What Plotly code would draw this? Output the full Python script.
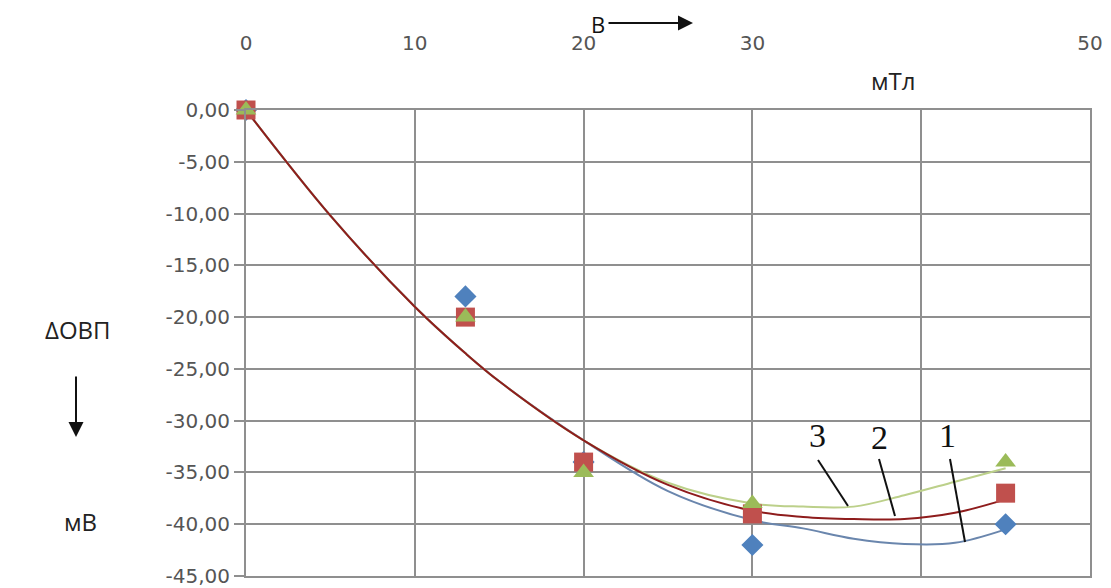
import plotly.graph_objects as go

# ---- data ----
x_points = [0, 13, 20, 30, 45]
series1_points = [0, -18, -34, -42, -40]      # blue diamonds (curve 1)
series2_points = [0, -20, -34, -39, -37]      # red squares (curve 2)
series3_points = [0, -20, -35, -38, -34]      # green triangles (curve 3)

x_curve = [0, 5, 10, 13, 15, 20, 25, 30, 33, 36, 39, 42, 45]
curve1 = [0, -10.2, -19.0, -23.5, -26.2, -31.9, -36.8, -39.6, -40.4, -41.4, -41.9, -41.8, -40.5]
curve2 = [0, -10.2, -19.0, -23.5, -26.2, -31.9, -36.2, -38.7, -39.3, -39.5, -39.5, -38.9, -37.6]
curve3 = [0, -10.2, -19.0, -23.5, -26.2, -31.9, -36.0, -38.0, -38.3, -38.3, -37.2, -35.9, -34.6]

x_tickvals = [0, 10, 20, 30, 40, 50]
x_ticktext = ["0", "10", "20", "30", "", "50"]
y_tickvals = [0, -5, -10, -15, -20, -25, -30, -35, -40, -45]
y_ticktext = ["0,00", "-5,00", "-10,00", "-15,00", "-20,00", "-25,00",
              "-30,00", "-35,00", "-40,00", "-45,00"]

BLUE = "#4F81BD"
RED = "#C0504D"
GREEN = "#9BBB59"

fig = go.Figure()

# trend curves
fig.add_trace(go.Scatter(x=x_curve, y=curve1, mode="lines",
                         line=dict(color="#6a86ad", width=2, shape="spline", smoothing=1.0),
                         hoverinfo="skip", showlegend=False))
fig.add_trace(go.Scatter(x=x_curve, y=curve3, mode="lines",
                         line=dict(color="#bcd08a", width=2, shape="spline", smoothing=1.0),
                         hoverinfo="skip", showlegend=False))
fig.add_trace(go.Scatter(x=x_curve, y=curve2, mode="lines",
                         line=dict(color="#8e1c1c", width=2, shape="spline", smoothing=1.0),
                         hoverinfo="skip", showlegend=False))

# markers
fig.add_trace(go.Scatter(x=x_points, y=series1_points, mode="markers",
                         marker=dict(symbol="diamond", size=17, color=BLUE),
                         cliponaxis=False, showlegend=False))
fig.add_trace(go.Scatter(x=x_points, y=series2_points, mode="markers",
                         marker=dict(symbol="square", size=19, color=RED),
                         cliponaxis=False, showlegend=False))
fig.add_trace(go.Scatter(x=x_points, y=series3_points, mode="markers",
                         marker=dict(symbol="triangle-up", size=18, color=GREEN),
                         cliponaxis=False, showlegend=False))

GRID = "#8f8f8f"
TICKFONT = dict(family="DejaVu Sans", size=20, color="#555555")

fig.update_xaxes(range=[0, 50], side="top", tickvals=x_tickvals, ticktext=x_ticktext,
                 showgrid=True, gridcolor=GRID, gridwidth=2, zeroline=False,
                 showline=True, linecolor=GRID, linewidth=2, mirror=True,
                 ticks="", tickfont=TICKFONT, ticklabelstandoff=50)
fig.update_yaxes(range=[-45, 0], tickvals=y_tickvals, ticktext=y_ticktext,
                 showgrid=True, gridcolor=GRID, gridwidth=2, zeroline=False,
                 showline=True, linecolor=GRID, linewidth=2, mirror=True,
                 ticks="outside", ticklen=10, tickcolor=GRID, tickwidth=2,
                 tickfont=TICKFONT)

# page offset of the figure inside the browser page
OFF = 8
W, H = 1111, 588
L, T = 246 - OFF, 110 - OFF
R, B = W - (1090 - OFF), H - (576 - OFF)
pw, ph = W - L - R, H - T - B


def px(xp):
    return (xp - OFF - L) / pw


def py(yp):
    return (H - B - (yp - OFF)) / ph


ann = []
lab_font = dict(family="Open Sans", size=24, color="#222222")
ann.append(dict(x=px(598), y=py(24), text="В", showarrow=False,
                font=dict(family="Open Sans", size=22, color="#111111"),
                xref="paper", yref="paper", xanchor="center", yanchor="middle",
                borderpad=0))
ann.append(dict(x=px(693), y=py(23), ax=-86, ay=0,
                xref="paper", yref="paper", text="", showarrow=True,
                arrowhead=2, arrowsize=1.5, arrowwidth=2, arrowcolor="#111111"))
ann.append(dict(x=px(893), y=py(80), text="мТл", showarrow=False, font=lab_font,
                xref="paper", yref="paper", xanchor="center", yanchor="middle"))
ann.append(dict(x=px(78), y=py(329), text="ΔОВП", showarrow=False, font=lab_font,
                xref="paper", yref="paper", xanchor="center", yanchor="middle"))
ann.append(dict(x=px(76), y=py(437), ax=0, ay=-62,
                xref="paper", yref="paper", text="", showarrow=True,
                arrowhead=2, arrowsize=1.5, arrowwidth=2, arrowcolor="#111111"))
ann.append(dict(x=px(80), y=py(521), text="мВ", showarrow=False, font=lab_font,
                xref="paper", yref="paper", xanchor="center", yanchor="middle"))

num_font = dict(family="Liberation Serif", size=34, color="#111111")
for txt, xp, yp in [("3", 817, 436), ("2", 879, 437), ("1", 947, 435)]:
    ann.append(dict(x=px(xp), y=py(yp), text=txt, showarrow=False, font=num_font,
                    xref="paper", yref="paper", xanchor="center", yanchor="middle"))

shapes = []
for (x0, y0, x1, y1) in [(818, 460, 848, 506), (879, 459, 895, 516), (950, 459, 965, 542)]:
    shapes.append(dict(type="line", xref="paper", yref="paper",
                       x0=px(x0), y0=py(y0), x1=px(x1), y1=py(y1),
                       line=dict(color="#111111", width=2)))

fig.update_layout(width=W, height=H, margin=dict(l=L, r=R, t=T, b=B, autoexpand=False),
                  plot_bgcolor="white", paper_bgcolor="white",
                  annotations=ann, shapes=shapes, showlegend=False)

fig.write_html("out.html")
